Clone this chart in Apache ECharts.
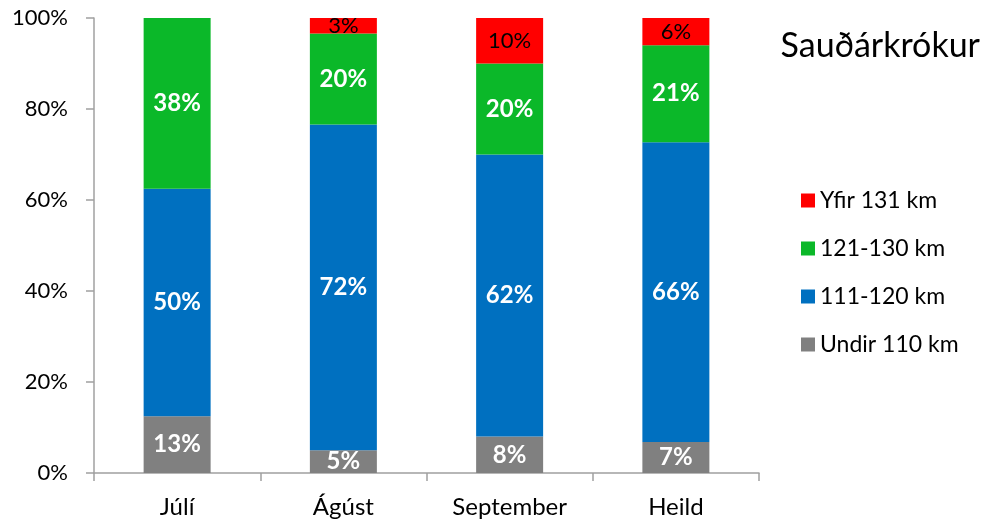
<!DOCTYPE html>
<html lang="is">
<head>
    <meta charset="UTF-8">
    <title>Sauðárkrókur</title>
    <script src="https://cdn.jsdelivr.net/npm/echarts@6/dist/echarts.min.js"></script>
</head>
<body style="margin:0;background:#fff;">
<div id="chart" style="width:989px;height:522px;"></div>
<script type="text/javascript">
    // gögn lesin af myndinni (hlutfall í %)
    var manudir = ['Júlí', 'Ágúst', 'September', 'Heild'];
    var undir110 = [12.5, 5, 8, 6.8];
    var bil111_120 = [50, 71.6, 62, 65.9];
    var bil121_130 = [37.5, 20, 20, 21.3];
    var yfir131 = [0, 3.4, 10, 6];
    var yTicks = ['0%', '20%', '40%', '60%', '80%', '100%'];

    var font = 'Lato, "Open Sans", sans-serif';

    function labelFmt(p) {
        if (p.value < 0.5) return '';
        return Math.round(p.value) + '%';
    }

    function makeSeries(name, data, color, dark) {
        return {
            name: name,
            type: 'bar',
            stack: 'alls',
            barWidth: 67,
            data: data,
            itemStyle: {color: color},
            label: {
                show: true,
                position: 'inside',
                formatter: labelFmt,
                color: dark ? '#000' : '#fff',
                fontWeight: dark ? 'normal' : 'bold',
                fontSize: dark ? 22 : 24,
                fontFamily: font
            }
        };
    }

    var chart = echarts.init(document.getElementById('chart'));
    chart.setOption({
        backgroundColor: '#fff',
        animation: false,
        title: {
            text: 'Sauðárkrókur',
            right: 4,
            top: 24,
            textStyle: {fontSize: 34, fontWeight: 'normal', color: '#000', fontFamily: font}
        },
        legend: {
            orient: 'vertical',
            left: 796,
            top: 184,
            itemWidth: 14,
            itemHeight: 14,
            itemGap: 25,
            icon: 'rect',
            data: ['Yfir 131 km', '121-130 km', '111-120 km', 'Undir 110 km'],
            textStyle: {fontSize: 23, color: '#000', fontFamily: font}
        },
        grid: {left: 94, right: 230, top: 18, bottom: 49},
        xAxis: {
            type: 'category',
            data: manudir,
            axisLine: {lineStyle: {color: '#a0a0a0', width: 1.5}},
            axisTick: {show: true, length: 8, lineStyle: {color: '#a0a0a0', width: 1.5}},
            axisLabel: {color: '#000', fontSize: 24, margin: 22, fontFamily: font}
        },
        yAxis: {
            type: 'value',
            min: 0,
            max: 100,
            interval: 20,
            axisLine: {show: true, lineStyle: {color: '#a0a0a0', width: 1.5}},
            axisTick: {show: true, length: 8, lineStyle: {color: '#a0a0a0', width: 1.5}},
            splitLine: {show: false},
            axisLabel: {
                color: '#000',
                fontSize: 22,
                margin: 26,
                fontFamily: font,
                formatter: function (v) { return yTicks[v / 20]; }
            }
        },
        series: [
            makeSeries('Undir 110 km', undir110, '#808080', false),
            makeSeries('111-120 km', bil111_120, '#0070c0', false),
            makeSeries('121-130 km', bil121_130, '#0bb829', false),
            makeSeries('Yfir 131 km', yfir131, '#ff0000', true)
        ]
    });
</script>
</body>
</html>
